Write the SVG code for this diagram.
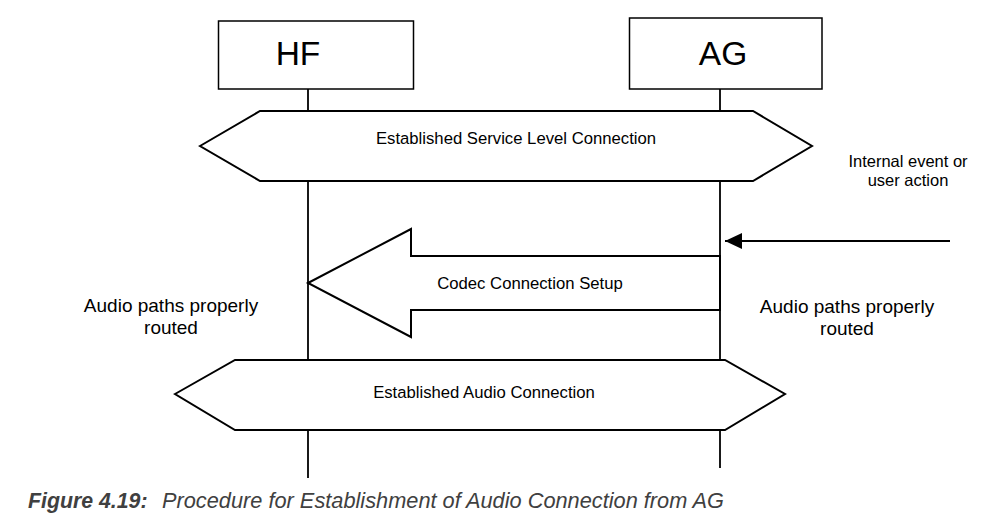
<svg xmlns="http://www.w3.org/2000/svg" width="1002" height="529" viewBox="0 0 1002 529">
<style>
.box{fill:#fff;stroke:#000;stroke-width:1.5}
.hex{fill:#fff;stroke:#000;stroke-width:2;stroke-linejoin:miter}
.life{stroke:#000;stroke-width:1.8;fill:none}
.t{font-family:"Liberation Sans",Arial,sans-serif;fill:#000;text-anchor:middle}
.big{font-size:33.5px}
.lbl{font-size:16.7px}
.note{font-size:19px}
.small{font-size:16.5px}
.cap{font-family:"Liberation Sans",Arial,sans-serif;font-size:21.3px;font-style:italic;fill:#404040}
</style>
<defs>
<marker id="ah" markerWidth="18" markerHeight="16" refX="17" refY="8" orient="auto" markerUnits="userSpaceOnUse">
<path d="M0,0 L17,8 L0,16 Z" fill="#000"/>
</marker>
</defs>
<rect width="1002" height="529" fill="#fff"/>
<g id="lifelines" class="life">
<line x1="308" y1="89" x2="308" y2="478"/>
<line x1="720" y1="89" x2="720" y2="468"/>
</g>
<g id="HF">
<rect class="box" x="218.5" y="21" width="195" height="68"/>
<text class="t big" x="298" y="65">HF</text>
</g>
<g id="AG">
<rect class="box" x="629.5" y="18" width="192.5" height="71"/>
<text class="t big" x="723" y="65">AG</text>
</g>
<g id="slc">
<polygon class="hex" points="200,146 260,111 753,111 812,146 753,181 260,181"/>
<text class="t lbl" x="516" y="144">Established Service Level Connection</text>
</g>
<g id="connectors">
<g id="codec">
<polygon class="hex" points="308,283 411,229 411,256 720,256 720,310 411,310 411,337"/>
<text class="t lbl" x="530" y="289">Codec Connection Setup</text>
</g>
<line x1="950" y1="241" x2="725" y2="241" stroke="#000" stroke-width="2" marker-end="url(#ah)"/>
</g>
<g id="audio">
<polygon class="hex" points="175,394 235,360 725,360 785,394 725,430 235,430"/>
<text class="t lbl" x="484" y="398">Established Audio Connection</text>
</g>
<g id="event">
<text class="t small" x="908" y="167">Internal event or</text>
<text class="t small" x="908" y="186">user action</text>
</g>
<g id="routed-left">
<text class="t note" x="171" y="312">Audio paths properly</text>
<text class="t note" x="171" y="334">routed</text>
</g>
<g id="routed-right">
<text class="t note" x="847" y="312.5">Audio paths properly</text>
<text class="t note" x="847" y="335">routed</text>
</g>
<text class="cap" x="28" y="508"><tspan font-weight="bold">Figure 4.19:</tspan><tspan x="162" textLength="562" lengthAdjust="spacingAndGlyphs">Procedure for Establishment of Audio Connection from AG</tspan></text>
</svg>
